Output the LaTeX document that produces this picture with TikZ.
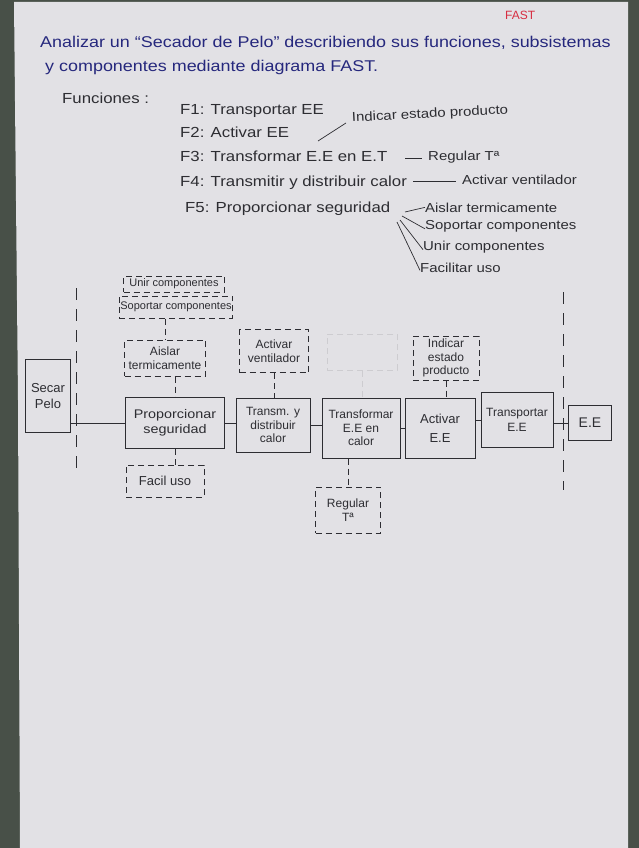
\documentclass[tikz,border=0pt]{standalone}
\usepackage{fontspec}
\setmainfont{Liberation Sans}
\newfontfamily\wide[FakeStretch=1.15]{Liberation Sans}
\definecolor{bgdark}{RGB}{72,80,72}
\definecolor{paper}{RGB}{226,225,229}
\definecolor{inkblue}{RGB}{38,40,125}
\definecolor{inkblack}{RGB}{45,45,50}
\definecolor{inkred}{RGB}{215,45,65}
\definecolor{erased}{RGB}{205,204,208}
\begin{document}
\begin{tikzpicture}[x=1pt,y=-1pt,
  ink/.style={draw=inkblack,line width=1pt},
  fbox/.style={ink,rectangle,inner sep=1pt,align=center,text=inkblack,font=\fontsize{12}{13.5}\selectfont},
  dbox/.style={fbox,dashed,dash pattern=on 6pt off 4pt},
  dconn/.style={ink,dash pattern=on 6pt off 4pt},
  conn/.style={ink},
  scopeline/.style={draw=inkblack,line width=0.9pt,dash pattern=on 12pt off 9pt},
  bluetxt/.style={text=inkblue,anchor=base west,inner sep=0pt},
  title/.style={bluetxt,font=\wide\fontsize{15.6}{18}\selectfont},
  fun/.style={text=inkblack,anchor=base west,inner sep=0pt,font=\wide\fontsize{14.6}{17}\selectfont},
  sub/.style={text=inkblack,anchor=base west,inner sep=0pt,font=\wide\fontsize{13}{15}\selectfont},
  lead/.style={draw=inkblack,line width=0.7pt}
]
\useasboundingbox (0,0) rectangle (639,848);
\fill[bgdark] (0,0) rectangle (639,848);
\fill[paper] (14,2) -- (628,2) -- (628,848) -- (20,848) -- (18,400) -- cycle;

% header
\node[text=inkred,anchor=base west,inner sep=0pt,font=\fontsize{12}{13}\selectfont] (fast) at (505,20) {FAST};
\node[title] (t1) at (40,48) {Analizar un “Secador de Pelo” describiendo sus funciones, subsistemas};
\node[title] (t2) at (45,72) {y componentes mediante diagrama FAST.};

% function list
\node[fun] (fn) at (62,104) {Funciones :};
\node[fun] (f1) at (180,115) {F1: Transportar EE};
\node[fun] (f2) at (180,138) {F2: Activar EE};
\node[fun] (f3) at (180,161) {F3: Transformar E.E en E.T};
\node[fun] (f4) at (180,186) {F4: Transmitir y distribuir calor};
\node[fun] (f5) at (185,212) {F5: Proporcionar seguridad};

\node[sub,rotate=3] (s2) at (352,122) {Indicar estado producto};
\node[sub] (s3) at (428,160) {Regular Tª};
\node[sub] (s4) at (462,184) {Activar ventilador};
\node[sub] (s5a) at (425,212) {Aislar termicamente};
\node[sub] (s5b) at (425,229) {Soportar componentes};
\node[sub] (s5c) at (423,250) {Unir componentes};
\node[sub] (s5d) at (420,272) {Facilitar uso};

\coordinate (l2a) at (318,141); \coordinate (l2b) at (346,123);
\draw[lead] (l2a) -- (l2b);
\coordinate (l3a) at (405,158); \coordinate (l3b) at (422,158);
\draw[lead] (l3a) -- (l3b);
\coordinate (l4a) at (413,181); \coordinate (l4b) at (456,181);
\draw[lead] (l4a) -- (l4b);
\coordinate (l5) at (405,212);
\draw[lead] (l5) -- (s5a.west);
\coordinate (l5b) at (402,216);
\draw[lead] (l5b) -- ([yshift=-3pt]s5b.west);
\coordinate (l5c) at (400,220);
\draw[lead] (l5c) -- ([yshift=-3pt]s5c.west);
\coordinate (l5d) at (397,222);
\draw[lead] (l5d) -- ([yshift=-3pt]s5d.west);

% scope lines
\coordinate (lt) at (76,288); \coordinate (lb) at (76,470);
\draw[scopeline] (lt) -- (lb);
\coordinate (rt) at (563,292); \coordinate (rb) at (563,490);
\draw[scopeline] (rt) -- (rb);

% main chain
\node[fbox,minimum width=45pt,minimum height=73pt,font=\fontsize{13}{16}\selectfont] (secar) at (48,396) {Secar\\Pelo};
\node[fbox,minimum width=99pt,minimum height=51pt,font=\wide\fontsize{12.5}{15}\selectfont] (prop) at (175,423) {Proporcionar\\seguridad};
\node[fbox,minimum width=74pt,minimum height=54pt] (transm) at (273,425) {Transm. y\\distribuir\\calor};
\node[fbox,minimum width=78pt,minimum height=60pt] (transf) at (361,428) {Transformar\\E.E en\\calor};
\node[fbox,minimum width=70pt,minimum height=60pt,font=\fontsize{13}{15}\selectfont] (activ) at (440,428) {Activar\\[4pt]E.E};
\node[fbox,minimum width=72pt,minimum height=55pt] (transp) at (517,420) {Transportar\\[2pt]E.E};
\node[fbox,minimum width=43pt,minimum height=35pt,font=\fontsize{14}{16}\selectfont] (ee) at (590,423) {E.E};

\draw[conn] (secar.east |- prop.west) -- (prop.west);
\draw[conn] (prop.east) -- (prop.east -| transm.west);
\draw[conn] (transm.east) -- (transm.east -| transf.west);
\draw[conn] (transf.east) -- (transf.east -| activ.west);
\draw[conn] (activ.east |- transp.east) -- (transp.west);
\draw[conn] (ee.west -| transp.east) -- (ee.west);

% support (dashed) functions
\node[dbox,minimum width=101pt,minimum height=16pt,font=\fontsize{11}{12}\selectfont] (unir) at (174,284) {Unir componentes};
\node[dbox,minimum width=113pt,minimum height=22pt,font=\fontsize{11}{12}\selectfont] (soport) at (176,307) {Soportar componentes};
\node[dbox,minimum width=81pt,minimum height=36pt] (aislar) at (165,358) {Aislar\\termicamente};
\node[dbox,minimum width=78pt,minimum height=32pt,font=\fontsize{13}{15}\selectfont] (facil) at (165,481) {Facil uso};
\node[dbox,minimum width=69pt,minimum height=43pt] (ventil) at (274,351) {Activar\\ventilador};
\node[dbox,draw=erased,minimum width=70pt,minimum height=36pt] (borrado) at (362,352) {};
\node[dbox,minimum width=65pt,minimum height=46pt] (regular) at (348,510) {Regular\\Tª};
\node[dbox,minimum width=66pt,minimum height=44pt] (indicar) at (446,358) {Indicar\\estado\\producto};

\draw[dconn] (soport.south -| aislar.north) -- (aislar.north);
\draw[dconn] (prop.north |- aislar.south) -- (prop.north);
\draw[dconn] (prop.south) -- (prop.south |- facil.north);
\draw[dconn] (ventil.south) -- (ventil.south |- transm.north);
\draw[dconn,draw=erased] (borrado.south) -- (borrado.south |- transf.north);
\draw[dconn] (transf.south -| regular.north) -- (regular.north);
\draw[dconn] (indicar.south) -- (indicar.south |- activ.north);
\end{tikzpicture}
\end{document}
